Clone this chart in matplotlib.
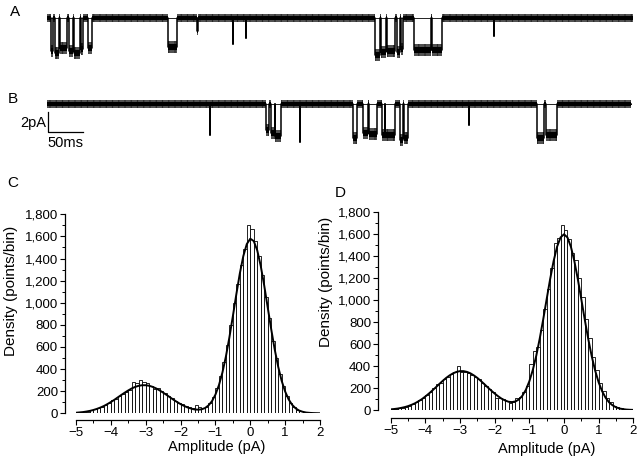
import matplotlib
matplotlib.use("Agg")
import matplotlib.pyplot as plt
import numpy as np
from matplotlib.ticker import MultipleLocator, FuncFormatter

plt.rcParams['font.family'] = ['Liberation Sans', 'DejaVu Sans']
plt.rcParams['hatch.linewidth'] = 0.7

# ---------------- data ----------------
# Trace A: openings (start ms, end ms, level pA) and brief spikes (time ms, level pA)
trace_a_end = 814
trace_a_openings = [
    (4.9, 9.0, -3.3), (11.1, 16.0, -3.5), (18.1, 27.8, -3.0), (30.6, 36.1, -3.3),
    (37.2, 45.8, -3.5), (46.9, 50.7, -3.1), (56.9, 62.5, -3.0), (167.4, 180.6, -2.9),
    (456.3, 462.5, -3.7), (464.6, 471.3, -3.4), (472.5, 483.4, -3.3), (485.7, 490.7, -3.4),
    (492.0, 494.9, -3.1), (509.8, 534.1, -3.2), (535.2, 548.7, -3.2),
]
trace_a_spikes = [(209.7, -1.3), (258.4, -2.6), (276.4, -2.0), (620.9, -1.8)]

# Trace B
trace_b_end = 811
trace_b_openings = [
    (304.2, 307.7, -2.6), (311.1, 316.1, -2.9), (317.2, 325.0, -3.2),
    (425.5, 430.2, -3.4), (439.3, 445.9, -2.9), (447.0, 458.0, -3.0),
    (464.9, 469.1, -3.1), (470.2, 483.4, -3.1), (490.3, 494.5, -3.6),
    (495.6, 501.9, -3.4), (680.6, 690.3, -3.4), (693.8, 708.4, -3.1),
]
trace_b_spikes = [(226.4, -3.1), (351.4, -3.8), (586.2, -2.1)]

# Histogram C (bins of 0.1 pA from -5 to 2)
hist_c_counts = [
    5, 8, 12, 15, 30, 40, 45, 60, 72, 95,
    118, 130, 160, 175, 195, 215, 280, 275, 300, 285,
    275, 245, 220, 225, 205, 185, 160, 135, 110, 95,
    80, 65, 55, 50, 75, 60, 45, 60, 95, 150,
    230, 340, 460, 620, 800, 1000, 1170, 1340, 1490, 1700,
    1670, 1560, 1420, 1250, 1050, 860, 650, 500, 360, 250,
    160, 95, 55, 30, 18, 10, 5, 3, 2, 1,
]
fit_c = [
    5, 8, 11, 16, 22, 30, 40, 52, 66, 83,
    102, 122, 144, 166, 187, 207, 225, 239, 249, 254,
    254, 249, 239, 225, 207, 187, 166, 144, 122, 102,
    83, 67, 53, 43, 35, 33, 36, 47, 71, 109,
    169, 254, 368, 513, 686, 878, 1077, 1265, 1422, 1531,
    1579, 1558, 1473, 1333, 1155, 958, 761, 579, 422, 294,
    197, 126, 77, 45, 25, 14, 7, 4, 2, 1, 0,
]

# Histogram D
hist_d_counts = [
    6, 10, 15, 22, 30, 40, 55, 70, 90, 110,
    135, 160, 200, 240, 250, 280, 300, 330, 350, 400,
    350, 345, 340, 320, 300, 280, 250, 220, 190, 160,
    110, 105, 100, 80, 60, 70, 110, 120, 160, 220,
    420, 540, 570, 730, 920, 1100, 1290, 1520, 1570, 1680,
    1640, 1560, 1430, 1370, 1200, 1030, 830, 660, 480, 360,
    250, 170, 110, 70, 40, 25, 14, 8, 4, 2,
]
fit_d = [
    6, 9, 13, 19, 26, 35, 47, 61, 79, 99,
    123, 149, 177, 206, 236, 265, 292, 315, 334, 347,
    354, 354, 347, 334, 315, 292, 265, 236, 206, 177,
    150, 125, 103, 87, 75, 72, 78, 96, 130, 184,
    261, 364, 494, 650, 824, 1009, 1191, 1355, 1486, 1571,
    1600, 1571, 1486, 1355, 1190, 1008, 822, 647, 490, 358,
    252, 171, 112, 70, 43, 25, 14, 8, 4, 2, 1,
]

x_ticks = [-5, -4, -3, -2, -1, 0, 1, 2]
y_ticks = [0, 200, 400, 600, 800, 1000, 1200, 1400, 1600, 1800]

# ---------------- figure ----------------
W, H = 640, 461
fig = plt.figure(figsize=(W / 100, H / 100), dpi=100)


def px_axes(left, top, right, bottom):
    return fig.add_axes([left / W, 1 - bottom / H, (right - left) / W, (bottom - top) / H])


def build_trace(openings, spikes, end, spike_w=1.3):
    ev = list(openings) + [(t - spike_w / 2, t + spike_w / 2, lv) for t, lv in spikes]
    ev.sort()
    t = [0.0]
    y = [0.0]
    for s, e, lv in ev:
        t += [s, e]
        y += [lv, 0.0]
    t.append(end)
    y.append(0.0)
    return np.array(t), np.array(y)


def draw_trace(ax, openings, spikes, end):
    t, y = build_trace(openings, spikes, end)
    is_open = y < -2.4
    core = np.where(is_open, 0.3, 0.2)
    halo = np.where(is_open, 0.6, 0.42)
    ax.axhline(0, color='k', lw=0.6, xmin=0, xmax=end / 814)
    ax.fill_between(t, y - halo, y + halo, step='post', facecolor='none',
                    edgecolor='#222222', hatch='|' * 14, lw=0)
    ax.fill_between(t, y - core, y + core, step='post', color='k', lw=0)
    ax.step(t, y, where='post', color='k', lw=1.1)
    ax.set_xlim(0, 814)
    ax.set_ylim(-4.5, 1.5)
    ax.axis('off')


axA = px_axes(47, 3, 633, 63)
draw_trace(axA, trace_a_openings, trace_a_spikes, trace_a_end)
axB = px_axes(47, 89, 633, 149)
draw_trace(axB, trace_b_openings, trace_b_spikes, trace_b_end)

# scale bar
axB.plot([0.7, 0.7, 50.7], [-0.8, -2.8, -2.8], color='k', lw=0.9, clip_on=False)
axB.text(-1.0, -1.9, '2pA', ha='right', va='center', fontsize=10.5, clip_on=False)
axB.text(25.7, -3.9, '50ms', ha='center', va='center', fontsize=10.5, clip_on=False)

fig.text(10 / W, 1 - 12 / H, 'A', fontsize=11, ha='left', va='center')
fig.text(8 / W, 1 - 99 / H, 'B', fontsize=11, ha='left', va='center')
fig.text(7 / W, 1 - 183 / H, 'C', fontsize=11, ha='left', va='center')
fig.text(335 / W, 1 - 193 / H, 'D', fontsize=11, ha='left', va='center')

edges = np.round(np.arange(-5, 2.0001, 0.1), 2)
centers = (edges[:-1] + edges[1:]) / 2


def draw_hist(ax, counts, fit, left_off, bottom_off):
    ax.bar(centers, counts, width=0.1, color='white', edgecolor='k', lw=0.6)
    ax.plot(edges, fit, color='k', lw=1.4)
    ax.set_xlim(-5, 2)
    ax.set_ylim(0, 1800)
    for s in ('top', 'right'):
        ax.spines[s].set_visible(False)
    ax.spines['left'].set_position(('outward', left_off))
    ax.spines['bottom'].set_position(('outward', bottom_off))
    ax.spines['left'].set_bounds(0, 1800)
    ax.spines['bottom'].set_bounds(-5, 2)
    ax.set_xticks(x_ticks)
    ax.set_yticks(y_ticks)
    ax.xaxis.set_minor_locator(MultipleLocator(0.5))
    ax.yaxis.set_minor_locator(MultipleLocator(100))
    ax.yaxis.set_major_formatter(FuncFormatter(lambda v, p: f'{int(v):,}'))
    ax.tick_params(which='major', direction='out', length=3.5, width=0.8, labelsize=9.5, pad=1.5)
    ax.tick_params(which='minor', direction='out', length=2.2, width=0.7)
    for s in ('left', 'bottom'):
        ax.spines[s].set_linewidth(0.9)


axC = px_axes(76, 214.3, 320, 413.3)
draw_hist(axC, hist_c_counts, fit_c, 8, 5)
axD = px_axes(390.7, 212.3, 633.3, 410)
draw_hist(axD, hist_d_counts, fit_d, 9, 5.7)

fig.text(11 / W, 1 - 291 / H, 'Density (points/bin)', rotation=90, ha='center', va='center', fontsize=11)
fig.text(326 / W, 1 - 282 / H, 'Density (points/bin)', rotation=90, ha='center', va='center', fontsize=11)
fig.text(217 / W, 1 - 447 / H, 'Amplitude (pA)', ha='center', va='center', fontsize=10.5)
fig.text(547 / W, 1 - 449 / H, 'Amplitude (pA)', ha='center', va='center', fontsize=10.5)

fig.savefig('out.png', dpi=100)
